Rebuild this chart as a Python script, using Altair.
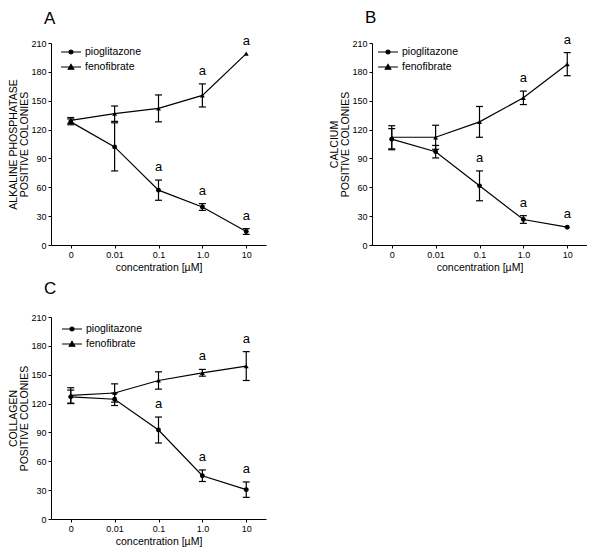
import altair as alt
import pandas as pd

conc = ["0", "0.01", "0.1", "1.0", "10"]
drugs = ["pioglitazone", "fenofibrate"]

# Panel A: alkaline phosphatase
a_pio_mean = [128, 102, 57, 39.5, 14]
a_pio_sem = [3, 25, 10.5, 3.5, 3]
a_pio_sig = [0, 0, 1, 1, 1]
a_feno_mean = [129.5, 136.5, 142, 155.5, 199]
a_feno_sem = [3, 8, 14, 12, 0]
a_feno_sig = [0, 0, 0, 1, 1]

# Panel B: calcium
b_pio_mean = [110, 97, 61.5, 26.5, 18.5]
b_pio_sem = [11, 6.5, 15.5, 4, 0]
b_pio_sig = [0, 0, 1, 1, 1]
b_feno_mean = [112, 112, 128, 153, 188]
b_feno_sem = [12, 12.5, 16, 7, 12]
b_feno_sig = [0, 0, 0, 1, 1]

# Panel C: collagen
c_pio_mean = [127, 124.5, 92.5, 45, 30.5]
c_pio_sem = [7, 6.5, 13.5, 6, 8]
c_pio_sig = [0, 0, 1, 1, 1]
c_feno_mean = [128.5, 131, 144, 152, 159]
c_feno_sem = [8, 9.5, 9, 3.5, 15]
c_feno_sig = [0, 0, 0, 1, 1]

y_ticks = [0, 30, 60, 90, 120, 150, 180, 210]
FONT = "Liberation Sans"

circle_path = "M-2,0H2M-0.4,0A0.4,0.4 0 1 1 0.4,0A0.4,0.4 0 1 1 -0.4,0Z"
tri_path = "M-2,0H2M-0.55,0.45L0.55,0.45L0,-0.5Z"


def make_df(pm, ps, pg, fm, fs, fg):
    rows = []
    for drug, m, s, g in (("pioglitazone", pm, ps, pg), ("fenofibrate", fm, fs, fg)):
        for c, mi, si, gi in zip(conc, m, s, g):
            rows.append({"conc": c, "drug": drug, "mean": mi, "sem": si,
                         "lo": mi - si, "hi": mi + si, "sig": gi})
    return pd.DataFrame(rows)


def panel(df, ytitle, letter, lx, ly, toff):
    x = alt.X("conc:N", sort=conc, scale=alt.Scale(type="point", padding=0.45),
              axis=alt.Axis(title="concentration [µM]", labelAngle=0))
    yscale = alt.Scale(domain=[0, 210], nice=False, zero=True)
    yaxis = alt.Axis(values=y_ticks, title=ytitle, labelOverlap=False)

    def Y(field):
        return alt.Y(field, scale=yscale, axis=yaxis)

    base = alt.Chart(df).encode(x=x)
    line = base.mark_line(color="black", strokeWidth=1.2).encode(
        y=Y("mean:Q"), detail="drug:N")
    err = base.transform_filter("datum.sem > 0")
    rule = err.mark_rule(color="black", strokeWidth=1.2).encode(y=Y("lo:Q"), y2="hi:Q")
    cap_lo = err.mark_tick(color="black", size=7, thickness=1.2, opacity=1).encode(y=Y("lo:Q"))
    cap_hi = err.mark_tick(color="black", size=7, thickness=1.2, opacity=1).encode(y=Y("hi:Q"))
    pts = base.mark_point(filled=True, color="black", opacity=1, size=24).encode(
        y=Y("mean:Q"),
        shape=alt.Shape("drug:N", scale=alt.Scale(domain=drugs, range=["circle", "triangle-up"]),
                        legend=None))
    txt = base.transform_filter("datum.sig == 1").mark_text(
        dy=-9, baseline="alphabetic", fontSize=13, font=FONT, color="black").encode(
        y=Y("hi:Q"), text=alt.value("a"))

    leg = base.transform_filter("false").mark_point(
        filled=False, color="black", fill="black", stroke="black", strokeWidth=1.2,
        opacity=1, size=100).encode(
        shape=alt.Shape("drug:N", scale=alt.Scale(domain=drugs, range=[circle_path, tri_path]),
                        legend=alt.Legend(title=None, orient="none", legendX=lx, legendY=ly,
                                          padding=0, labelOffset=8, rowPadding=3,
                                          labelFont=FONT, labelFontSize=10.5,
                                          labelColor="black", symbolSize=100,
                                          symbolStrokeWidth=1.2)))
    return alt.layer(line, rule, cap_lo, cap_hi, pts, txt, leg).resolve_scale(
        shape="independent").properties(
        width=215, height=202,
        title=alt.TitleParams(letter, anchor="start", frame="group", fontSize=17, font=FONT,
                              fontWeight="normal", dx=-7, offset=toff, color="black"))


dfa = make_df(a_pio_mean, a_pio_sem, a_pio_sig, a_feno_mean, a_feno_sem, a_feno_sig)
dfb = make_df(b_pio_mean, b_pio_sem, b_pio_sig, b_feno_mean, b_feno_sem, b_feno_sig)
dfc = make_df(c_pio_mean, c_pio_sem, c_pio_sig, c_feno_mean, c_feno_sem, c_feno_sig)

pa = panel(dfa, ["ALKALINE PHOSPHATASE", "POSITIVE COLONIES"], "A", 14, 3, 7)
pb = panel(dfb, ["CALCIUM", "POSITIVE COLONIES"], "B", 10, 3, 7)
pc = panel(dfc, ["COLLAGEN", "POSITIVE COLONIES"], "C", 15, 6, 15)

chart = alt.vconcat(alt.hconcat(pa, pb, spacing=63), pc, spacing=7).properties(
    padding=0
).configure_view(stroke=None).configure_axis(
    grid=False, domainColor="black", tickColor="black", labelColor="black",
    titleColor="black", labelFont=FONT, titleFont=FONT, labelFontSize=9,
    titleFontSize=10.5, titleFontWeight="normal", tickSize=3, labelPadding=2,
    titlePadding=3, domainWidth=1, tickWidth=1, titleLineHeight=11
).configure_axisY(titlePadding=1, labelPadding=2)

chart.save("out.html", embed_options={"renderer": "svg", "actions": False})
